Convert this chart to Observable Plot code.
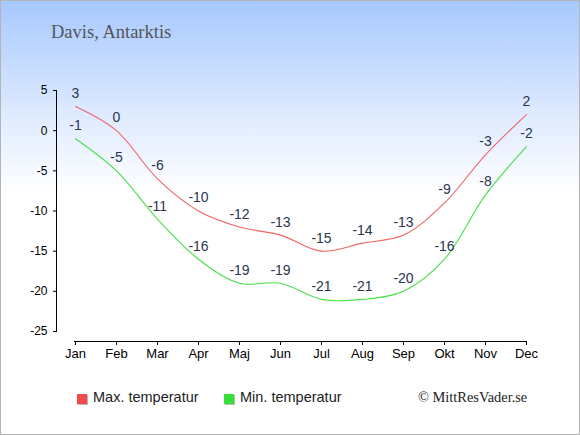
<!DOCTYPE html>
<html>
<head>
<meta charset="utf-8">
<script src="https://cdn.jsdelivr.net/npm/d3@7"></script>
<script src="https://cdn.jsdelivr.net/npm/@observablehq/plot@0.6"></script>
<style>
  html, body { margin: 0; padding: 0; }
  #wrap {
    position: relative; width: 580px; height: 435px; overflow: hidden;
    background: linear-gradient(to bottom, #a6c8ff 0px, #dce9ff 110px, #ffffff 195px, #ffffff 435px);
  }
  #border { position: absolute; left: 0; top: 0; width: 578px; height: 433px; border: 1px solid #b4b4b4; }
  #chart { position: absolute; left: 0; top: 0; }
  .title { position: absolute; left: 51px; top: 23px; font: 18.5px/18px "Liberation Serif", serif; color: #555; white-space: nowrap; }
  .leg { position: absolute; top: 390px; font: 14.5px/14.5px "Liberation Sans", Arial, sans-serif; color: #222; white-space: nowrap; }
  .sw { position: absolute; top: 394px; width: 10px; height: 10px; box-shadow: 1px 1px 0 #b8b8b8; }
  .copy { position: absolute; left: 418px; top: 390px; font: 14.4px/14px "Liberation Serif", serif; color: #222; white-space: nowrap; }
</style>
</head>
<body>
<div id="wrap">
  <div id="chart"></div>
  <div class="title">Davis, Antarktis</div>
  <div class="sw" style="left:77px;background:#f04a4a"></div>
  <div class="leg" style="left:93px">Max. temperatur</div>
  <div class="sw" style="left:224px;background:#36e036"></div>
  <div class="leg" style="left:240px">Min. temperatur</div>
  <div class="copy">© MittResVader.se</div>
  <div id="border"></div>
</div>
<script>
const months = ["Jan","Feb","Mar","Apr","Maj","Jun","Jul","Aug","Sep","Okt","Nov","Dec"];
const maxTemp = [3, 0, -6, -10, -12, -13, -15, -14, -13, -9, -3, 2];
const minTemp = [-1, -5, -11, -16, -19, -19, -21, -21, -20, -16, -8, -2];
const yTicks = [5, 0, -5, -10, -15, -20, -25];

const maxData = months.map((m, i) => ({month: m, value: maxTemp[i]}));
const minData = months.map((m, i) => ({month: m, value: minTemp[i]}));

const chart = Plot.plot({
  width: 580,
  height: 435,
  marginLeft: 74,
  marginRight: 54,
  marginTop: 90,
  marginBottom: 104,
  style: {background: "transparent", fontFamily: "'Liberation Sans', Arial, sans-serif", overflow: "visible"},
  x: {type: "point", domain: months, padding: 0, axis: null},
  y: {domain: [-25, 5], axis: null},
  marks: [
    Plot.ruleX([months[0]], {dx: -19, y1: -25, y2: 5, stroke: "black", strokeWidth: 1}),
    Plot.axisY({ticks: yTicks, anchor: "left", dx: -17, tickSize: 4, tickPadding: 6, fontSize: 12, fill: "black", stroke: "black", label: null, tickFormat: d => String(d).replace("\u2212", "-")}),
    Plot.ruleY([-25], {dy: 10, stroke: "black", strokeWidth: 1}),
    Plot.axisX({anchor: "bottom", dy: 10, tickSize: 4, tickPadding: 3, fontSize: 13, fill: "black", stroke: "black", label: null}),
    Plot.line(maxData, {x: "month", y: "value", stroke: "#f06464", strokeWidth: 1.1, curve: "catmull-rom"}),
    Plot.line(minData, {x: "month", y: "value", stroke: "#48e048", strokeWidth: 1.1, curve: "catmull-rom"}),
    Plot.text(maxData, {x: "month", y: "value", text: d => String(d.value), dy: -13, fill: "#2a3550", fontSize: 14}),
    Plot.text(minData, {x: "month", y: "value", text: d => String(d.value), dy: -13, fill: "#2a3550", fontSize: 14})
  ]
});
document.getElementById("chart").appendChild(chart);
</script>
</body>
</html>
